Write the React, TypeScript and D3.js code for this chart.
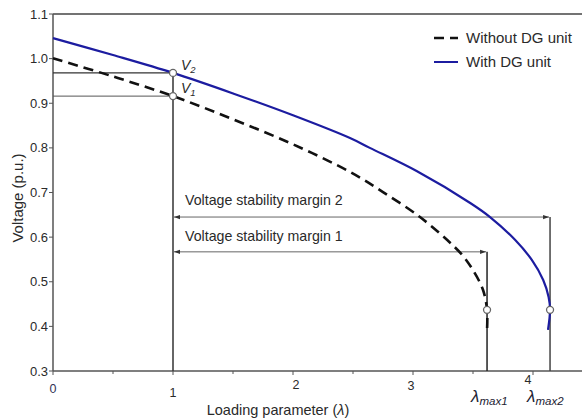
import React from "react";
import * as d3 from "d3";

// (loading parameter λ, voltage p.u.)
const withoutDG: [number, number][] = [
  [0, 1.001], [0.5, 0.96], [1, 0.916], [1.5, 0.864], [2, 0.808],
  [2.475, 0.746], [2.75, 0.701], [3.058, 0.645], [3.283, 0.594],
  [3.41, 0.56], [3.5, 0.526], [3.583, 0.482], [3.617, 0.437], [3.617, 0.392],
];
const withDG: [number, number][] = [
  [0, 1.046], [0.5, 1.008], [1, 0.968], [1.5, 0.922], [2, 0.873],
  [2.475, 0.822], [2.64, 0.8], [3.03, 0.748], [3.48, 0.676], [3.642, 0.645],
  [3.85, 0.594], [3.99, 0.549], [4.085, 0.504], [4.13, 0.466],
  [4.142, 0.437], [4.125, 0.392],
];
const lambdaMax1 = 3.617;
const lambdaMax2 = 4.142;
const v1 = 0.916;
const v2 = 0.968;
const noseV = 0.437;
const margin1V = 0.567;
const margin2V = 0.645;
const xTicks = [0, 1, 2, 3, 4];
const xMinorTicks = [0.5, 1.5, 2.5, 3.5, 4.5];
const yTicks = [0.3, 0.4, 0.5, 0.6, 0.7, 0.8, 0.9, 1.0, 1.1];
const legendItems = ["Without DG unit", "With DG unit"];

const W = 582;
const H = 419;
const font = "'Liberation Sans', Arial, sans-serif";
const textColor = "#2a2a2a";
const axisColor = "#555";
const blue = "#1c1ca0";
// the scanned original has its x tick labels slightly scattered
const tickNudge: Record<number, [number, number]> = {
  0: [0, 2], 1: [0, 6], 2: [3, -2], 3: [-2, -1], 4: [-5, -7],
};

export default function App() {
  const x = d3.scaleLinear().domain([0, 4]).range([53, 533]);
  const y = d3.scaleLinear().domain([0.3, 1.1]).range([371, 14]);
  const line = d3
    .line<[number, number]>()
    .x((d) => x(d[0]))
    .y((d) => y(d[1]))
    .curve(d3.curveCatmullRom.alpha(0.5));

  return (
    <svg
      width={W}
      height={H}
      style={{ position: "absolute", left: 0, top: 0, background: "#fff" }}
      fontFamily={font}
    >
      <defs>
        <marker id="arr" viewBox="0 0 10 10" refX="10" refY="5" markerWidth="6" markerHeight="6" orient="auto-start-reverse">
          <path d="M0,1.5 L10,5 L0,8.5 Z" fill="#333" />
        </marker>
      </defs>

      {/* frame */}
      <line x1={x(0)} x2={W} y1={y(1.1)} y2={y(1.1)} stroke="#444" strokeWidth={1.5} />
      <line x1={x(0)} x2={x(0)} y1={y(1.1)} y2={y(0.3)} stroke={axisColor} strokeWidth={1.5} />
      <line x1={x(0)} x2={W} y1={y(0.3)} y2={y(0.3)} stroke={axisColor} strokeWidth={1.5} />

      {/* y ticks */}
      {yTicks.map((t) => (
        <g key={t}>
          <line x1={x(0) - 4} x2={x(0)} y1={y(t)} y2={y(t)} stroke={axisColor} />
          <text x={x(0) - 5} y={y(t) + 4.5} fontSize={13} textAnchor="end" fill={textColor}>
            {t.toFixed(1)}
          </text>
        </g>
      ))}

      {/* x ticks */}
      {xTicks.map((t) => (
        <g key={t}>
          <line x1={x(t)} x2={x(t)} y1={y(0.3)} y2={y(0.3) + 4} stroke={axisColor} />
          <text x={x(t) + tickNudge[t][0]} y={y(0.3) + 20 + tickNudge[t][1]} fontSize={12.5}
            textAnchor="middle" fill={t === 0 ? "#335" : textColor}>
            {t}
          </text>
        </g>
      ))}
      {xMinorTicks.map((t) => (
        <line key={t} x1={x(t)} x2={x(t)} y1={y(0.3)} y2={y(0.3) + 3} stroke={axisColor} />
      ))}

      {/* axis titles */}
      <text x={278} y={415} fontSize={14.5} textAnchor="middle" fill={textColor}>
        Loading parameter (<tspan fontStyle="italic">λ</tspan>)
      </text>
      <text transform="translate(23,198) rotate(-90)" fontSize={15} textAnchor="middle" fill={textColor}>
        Voltage (p.u.)
      </text>

      {/* V1 / V2 guides */}
      <line x1={x(0)} x2={x(1)} y1={y(v2)} y2={y(v2)} stroke="#333" strokeWidth={1.2} />
      <line x1={x(0)} x2={x(1)} y1={y(v1)} y2={y(v1)} stroke="#555" strokeWidth={1} />
      <line x1={x(1)} x2={x(1)} y1={y(v2)} y2={y(0.3)} stroke="#333" strokeWidth={1.5} />
      <line x1={x(lambdaMax1)} x2={x(lambdaMax1)} y1={y(margin1V)} y2={y(0.3)} stroke="#222" strokeWidth={1.5} />
      <line x1={x(lambdaMax2)} x2={x(lambdaMax2)} y1={y(margin2V)} y2={y(0.3)} stroke="#444" strokeWidth={1.5} />

      {/* stability margins */}
      <line x1={x(1) + 1} x2={x(lambdaMax2) - 1} y1={y(margin2V)} y2={y(margin2V)} stroke="#666" strokeWidth={1}
        markerStart="url(#arr)" markerEnd="url(#arr)" />
      <line x1={x(1) + 1} x2={x(lambdaMax1) - 1} y1={y(margin1V)} y2={y(margin1V)} stroke="#666" strokeWidth={1}
        markerStart="url(#arr)" markerEnd="url(#arr)" />
      <text x={185} y={y(margin2V) - 12} fontSize={14.2} fill={textColor}>Voltage stability margin 2</text>
      <text x={185} y={y(margin1V) - 11} fontSize={14.2} fill={textColor}>Voltage stability margin 1</text>

      {/* curves */}
      <path d={line(withoutDG) ?? ""} fill="none" stroke="#111" strokeWidth={2.6} strokeDasharray="10,6" />
      <path d={line(withDG) ?? ""} fill="none" stroke={blue} strokeWidth={2.2} />

      {/* markers */}
      {[[1, v2], [1, v1], [lambdaMax1, noseV], [lambdaMax2, noseV]].map(([a, b], i) => (
        <circle key={i} cx={x(a)} cy={y(b)} r={3.5} fill="#fff" stroke="#666" strokeWidth={1.3} />
      ))}

      {/* V labels */}
      <text x={x(1) + 8} y={y(v2) - 3} fontSize={14} fontStyle="italic" fill={textColor}>
        V<tspan fontSize={9.5} dy={3}>2</tspan>
      </text>
      <text x={x(1) + 8} y={y(v1) - 3} fontSize={14} fontStyle="italic" fill={textColor}>
        V<tspan fontSize={9.5} dy={3}>1</tspan>
      </text>

      {/* lambda max labels */}
      <text x={x(lambdaMax1) - 16} y={402} fontSize={17} fontStyle="italic" fill="#223">
        λ<tspan fontSize={11.5} dy={3}>max1</tspan>
      </text>
      <text x={x(lambdaMax2) - 23} y={402} fontSize={17} fontStyle="italic" fill="#223">
        λ<tspan fontSize={11.5} dy={3}>max2</tspan>
      </text>

      {/* legend */}
      {legendItems.map((name, i) => (
        <g key={name} transform={`translate(434,${38 + i * 24})`}>
          <line x1={0} x2={24} y1={0} y2={0}
            stroke={i === 0 ? "#111" : blue}
            strokeWidth={i === 0 ? 2.6 : 2}
            strokeDasharray={i === 0 ? "10,6" : undefined} />
          <text x={32} y={5} fontSize={15} fill={textColor}>{name}</text>
        </g>
      ))}
    </svg>
  );
}
